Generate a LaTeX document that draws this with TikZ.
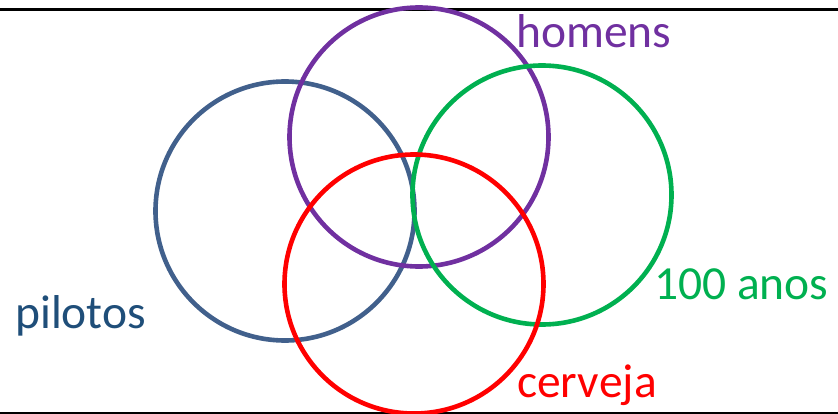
\documentclass[tikz,border=0pt]{standalone}
\usepackage{fontspec}
\setmainfont{Carlito}
\definecolor{cblue}{HTML}{41608C}
\definecolor{tblue}{HTML}{1F4E79}
\definecolor{cpurple}{HTML}{7030A0}
\definecolor{cgreen}{HTML}{00B050}
\definecolor{cred}{HTML}{FF0000}
\begin{document}
\begin{tikzpicture}[x=1pt,y=1pt,
  ring/.style={circle, draw, line width=4.6pt, minimum size=259pt, inner sep=0pt},
  lbl/.style={anchor=base west, inner sep=0pt, font=\fontsize{47.5}{52}\selectfont}]
\useasboundingbox (0,0) rectangle (838,413);
\coordinate (tl) at (0,403.5);
\coordinate (tr) at (838,403.5);
\coordinate (bl) at (0,0.5);
\coordinate (br) at (838,0.5);
\draw[line width=3pt] (tl) -- (tr);
\draw[line width=2pt] (bl) -- (br);
\node[ring, draw=cblue] (pil) at (285,202) {};
\node[ring, draw=cpurple] (hom) at (419,276) {};
\node[ring, draw=cgreen] (ano) at (542,218) {};
\node[ring, draw=cred] (cer) at (414,129) {};
\node[lbl, text=cpurple] (thom) at (516,365) {homens};
\node[lbl, text=cgreen] (tano) at (654,114) {100 anos};
\node[lbl, text=tblue] (tpil) at (15,85) {pilotos};
\node[lbl, text=cred] (tcer) at (517,16) {cerveja};
\end{tikzpicture}
\end{document}
